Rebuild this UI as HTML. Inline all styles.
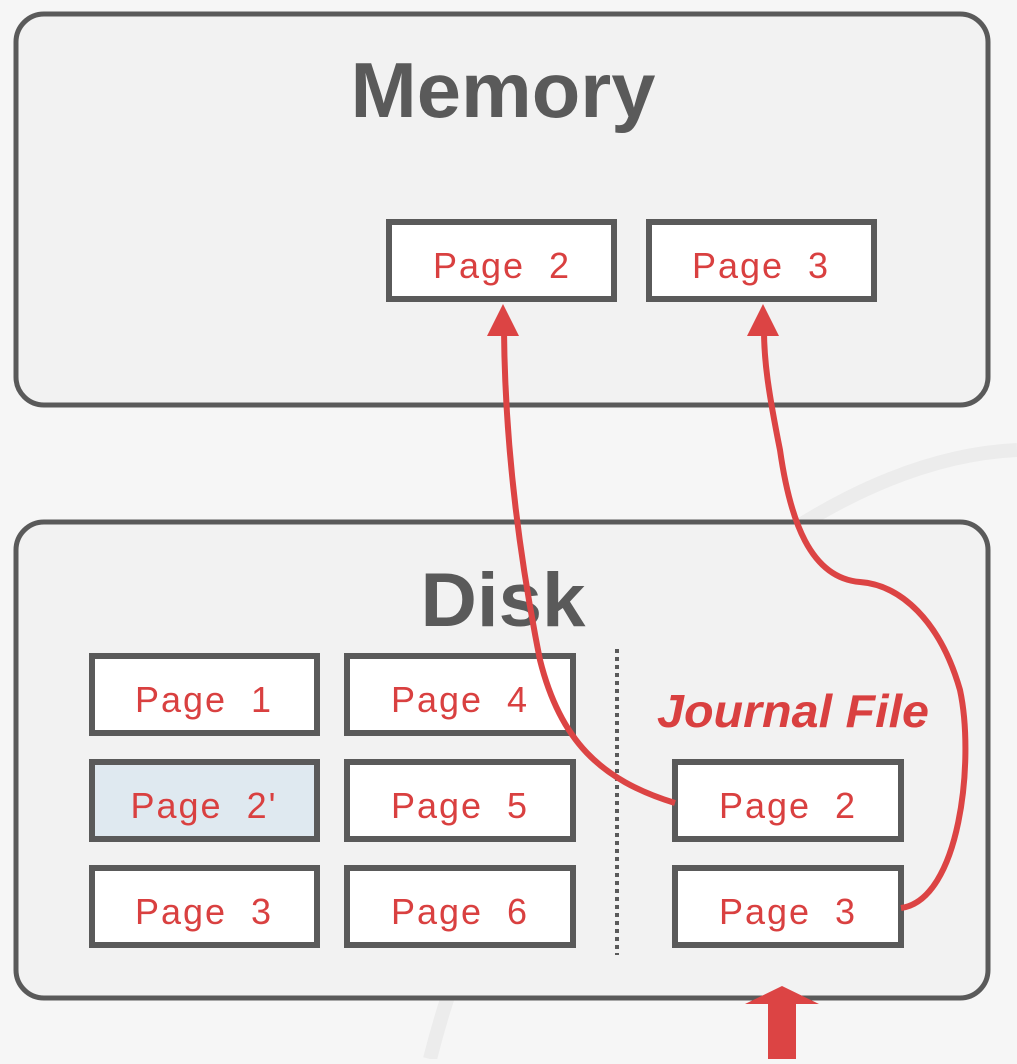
<!DOCTYPE html>
<html><head><style>
body{margin:0;background:#f6f6f6;}
svg text{font-family:"Liberation Sans",sans-serif;}
</style></head><body>
<svg width="1017" height="1059" viewBox="0 0 1017 1059" xmlns="http://www.w3.org/2000/svg">
<path d="M430,1059 C520,700 800,460 1017,450" fill="none" stroke="#ececec" stroke-width="14"/>
<rect x="16" y="14" width="972" height="391" rx="28" fill="#f2f2f2" stroke="#5a5a5a" stroke-width="5"/>
<rect x="16" y="522" width="972" height="476" rx="28" fill="#f2f2f2" stroke="#5a5a5a" stroke-width="5"/>
<text x="503" y="117" text-anchor="middle" font-size="78" font-weight="bold" fill="#5a5a5a" textLength="305" lengthAdjust="spacingAndGlyphs">Memory</text>
<text x="503" y="626" text-anchor="middle" font-size="76" font-weight="bold" fill="#5a5a5a" textLength="165" lengthAdjust="spacingAndGlyphs">Disk</text>
<g stroke="#5a5a5a" stroke-width="6" fill="#fff">
<rect x="389" y="222" width="225" height="77"/>
<rect x="649" y="222" width="225" height="77"/>
<rect x="92" y="656" width="225" height="77"/>
<rect x="92" y="762" width="225" height="77" fill="#dfe9f0"/>
<rect x="92" y="868" width="225" height="77"/>
<rect x="347" y="656" width="226" height="77"/>
<rect x="347" y="762" width="226" height="77"/>
<rect x="347" y="868" width="226" height="77"/>
<rect x="675" y="762" width="226" height="77"/>
<rect x="675" y="868" width="226" height="77"/>
</g>
<g font-size="36" fill="#d94040" text-anchor="middle" letter-spacing="2">
<text x="502" y="278">Page&#160;&#160;2</text>
<text x="761" y="278">Page&#160;&#160;3</text>
<text x="204" y="712">Page&#160;&#160;1</text>
<text x="204" y="818">Page&#160;&#160;2'</text>
<text x="204" y="924">Page&#160;&#160;3</text>
<text x="460" y="712">Page&#160;&#160;4</text>
<text x="460" y="818">Page&#160;&#160;5</text>
<text x="460" y="924">Page&#160;&#160;6</text>
<text x="788" y="818">Page&#160;&#160;2</text>
<text x="788" y="924">Page&#160;&#160;3</text>
</g>
<text x="793" y="727" text-anchor="middle" font-size="46" font-weight="bold" font-style="italic" fill="#d94040" textLength="272" lengthAdjust="spacingAndGlyphs">Journal File</text>
<line x1="617" y1="649" x2="617" y2="955" stroke="#5a5a5a" stroke-width="4" stroke-dasharray="4,4"/>
<g fill="none" stroke="#dc4444" stroke-width="6">
<path d="M675,803 C600,780 560,740 540,660 C520,560 505,450 504,330"/>
<path d="M901,908 C960,900 975,760 960,690 C940,620 900,585 860,582 C810,578 790,520 780,450 C768,390 764,360 764,330"/>
</g>
<g fill="#dc4444">
<polygon points="503,304 487,336 519,336"/>
<polygon points="763,304 747,336 779,336"/>
<polygon points="782,986 745,1004 768,1004 768,1059 796,1059 796,1004 819,1004"/>
</g>
</svg>
</body></html>
